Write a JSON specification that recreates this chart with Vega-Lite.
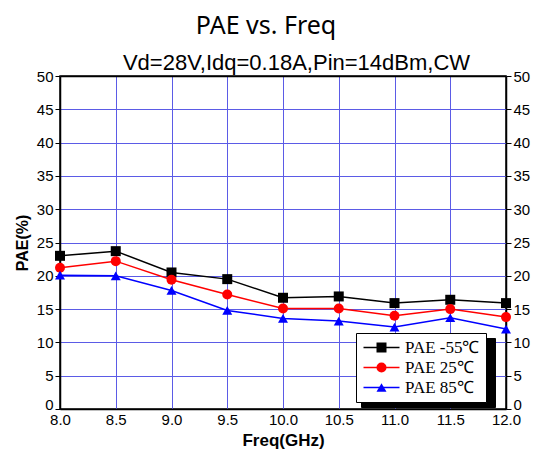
{
  "$schema": "https://vega.github.io/schema/vega-lite/v6.json",
  "width": 446,
  "height": 333,
  "autosize": "none",
  "padding": {"left": 60, "top": 76, "right": 27, "bottom": 43},
  "background": "white",
  "title": {"text": "PAE vs. Freq", "font": "Noto Sans", "fontSize": 25, "fontWeight": "normal", "color": "black", "anchor": "middle", "offset": 12, "dx": -17},
  "config": {
    "view": {"stroke": "black", "strokeWidth": 1.5},
    "axis": {"labelFont": "Liberation Sans", "labelFontSize": 15, "labelColor": "black", "domainColor": "black", "domainWidth": 1.5, "tickColor": "black", "titleColor": "black", "titleFont": "Liberation Sans", "titleFontWeight": "bold", "gridColor": "#5b5be6", "gridWidth": 1, "gridOpacity": 1}
  },
  "data": {"values": [
    {"freq": 8.0, "pae": 23.0, "series": "PAE -55℃"},
    {"freq": 8.5, "pae": 23.7, "series": "PAE -55℃"},
    {"freq": 9.0, "pae": 20.5, "series": "PAE -55℃"},
    {"freq": 9.5, "pae": 19.5, "series": "PAE -55℃"},
    {"freq": 10.0, "pae": 16.7, "series": "PAE -55℃"},
    {"freq": 10.5, "pae": 16.9, "series": "PAE -55℃"},
    {"freq": 11.0, "pae": 15.9, "series": "PAE -55℃"},
    {"freq": 11.5, "pae": 16.4, "series": "PAE -55℃"},
    {"freq": 12.0, "pae": 15.9, "series": "PAE -55℃"},
    {"freq": 8.0, "pae": 21.2, "series": "PAE 25℃"},
    {"freq": 8.5, "pae": 22.2, "series": "PAE 25℃"},
    {"freq": 9.0, "pae": 19.4, "series": "PAE 25℃"},
    {"freq": 9.5, "pae": 17.2, "series": "PAE 25℃"},
    {"freq": 10.0, "pae": 15.1, "series": "PAE 25℃"},
    {"freq": 10.5, "pae": 15.1, "series": "PAE 25℃"},
    {"freq": 11.0, "pae": 14.0, "series": "PAE 25℃"},
    {"freq": 11.5, "pae": 15.0, "series": "PAE 25℃"},
    {"freq": 12.0, "pae": 13.8, "series": "PAE 25℃"},
    {"freq": 8.0, "pae": 20.1, "series": "PAE 85℃"},
    {"freq": 8.5, "pae": 20.0, "series": "PAE 85℃"},
    {"freq": 9.0, "pae": 17.8, "series": "PAE 85℃"},
    {"freq": 9.5, "pae": 14.8, "series": "PAE 85℃"},
    {"freq": 10.0, "pae": 13.6, "series": "PAE 85℃"},
    {"freq": 10.5, "pae": 13.2, "series": "PAE 85℃"},
    {"freq": 11.0, "pae": 12.3, "series": "PAE 85℃"},
    {"freq": 11.5, "pae": 13.7, "series": "PAE 85℃"},
    {"freq": 12.0, "pae": 12.0, "series": "PAE 85℃"}
  ]},
  "layer": [
    {
      "mark": {"type": "line", "opacity": 0},
      "encoding": {
        "x": {"field": "freq", "type": "quantitative", "axis": null},
        "y": {"field": "pae", "type": "quantitative", "axis": null},
        "strokeDash": {"field": "series", "type": "nominal", "scale": {"domain": ["PAE 85℃", "PAE 25℃", "PAE -55℃"], "range": [[1, 0], [1, 0], [1, 0]]}, "legend": {
          "orient": "none", "legendX": 301, "legendY": 262, "title": null,
          "padding": 6, "strokeColor": "black", "fillColor": "black",
          "labelFont": "Liberation Serif", "labelFontSize": 17, "labelColor": "transparent",
          "labelExpr": "'\u2003'",
          "symbolType": "M-3.6,0H3.6", "symbolSize": 100, "symbolStrokeWidth": 1.5, "symbolOffset": 11, "labelOffset": 94, "rowPadding": 2,
          "symbolStrokeColor": "transparent", "symbolOpacity": 0
        }}
      }
    },
    {
      "mark": {"type": "line", "strokeWidth": 1.5},
      "encoding": {
        "x": {"field": "freq", "type": "quantitative", "scale": {"domain": [8, 12], "nice": false, "zero": false},
              "axis": {"orient": "bottom", "values": [8, 8.5, 9, 9.5, 10, 10.5, 11, 11.5, 12], "format": ".1f", "ticks": false, "labelPadding": 3, "labelFlush": false, "title": "Freq(GHz)", "titleFontSize": 17, "titlePadding": 5, "grid": true}},
        "y": {"field": "pae", "type": "quantitative", "scale": {"domain": [0, 50], "nice": false},
              "axis": {"orient": "left", "values": [0, 5, 10, 15, 20, 25, 30, 35, 40, 45, 50], "tickSize": 5, "labelPadding": 2, "title": "PAE(%)", "titleFontSize": 16, "titlePadding": 6, "grid": true,
                       "labelBaseline": {"condition": {"test": "datum.value === 0", "value": "alphabetic"}, "value": "middle"}}},
        "stroke": {"field": "series", "type": "nominal", "scale": {"range": ["black", "#ff0000", "#0000ff"]}, "legend": {
          "orient": "none", "legendX": 296, "legendY": 257, "title": null,
          "padding": 6, "strokeColor": "black", "fillColor": "white",
          "labelFont": "Liberation Serif", "labelFontSize": 17, "labelColor": "black",
          "symbolType": "M-3.6,0H3.6", "symbolSize": 100, "symbolStrokeWidth": 1.5, "symbolOffset": 11, "labelOffset": 15, "rowPadding": 2
        }}
      }
    },
    {
      "mark": {"type": "point", "filled": true, "size": 100, "opacity": 1},
      "encoding": {
        "x": {"field": "freq", "type": "quantitative",
              "axis": {"orient": "top", "labels": false, "ticks": false, "grid": false, "title": "Vd=28V,Idq=0.18A,Pin=14dBm,CW", "titleFontSize": 22, "titleFontWeight": "normal", "titlePadding": 2, "titleX": 236, "titleAlign": "center"}},
        "y": {"field": "pae", "type": "quantitative",
              "axis": {"orient": "right", "values": [0, 5, 10, 15, 20, 25, 30, 35, 40, 45, 50], "tickSize": 5, "labelPadding": 2, "title": null, "grid": false,
                       "labelBaseline": {"condition": {"test": "datum.value === 0", "value": "alphabetic"}, "value": "middle"}}},
        "color": {"field": "series", "type": "nominal", "scale": {"domain": ["PAE -55℃", "PAE 25℃", "PAE 85℃"], "range": ["black", "#ff0000", "#0000ff"]}, "legend": {
          "orient": "none", "legendX": 296, "legendY": 257, "title": null,
          "strokeColor": null, "fillColor": null, "padding": 6,
          "labelFont": "Liberation Serif", "labelFontSize": 17, "labelColor": "transparent",
          "labelExpr": "'\u2003'",
          "symbolSize": 100, "symbolStrokeWidth": 1.5, "symbolOffset": 11, "labelOffset": 15, "rowPadding": 2, "symbolOpacity": 1
        }},
        "shape": {"field": "series", "type": "nominal", "scale": {"domain": ["PAE -55℃", "PAE 25℃", "PAE 85℃"], "range": ["square", "circle", "triangle-up"]}}
      }
    }
  ],
  "resolve": {"axis": {"x": "independent", "y": "independent"}}
}
